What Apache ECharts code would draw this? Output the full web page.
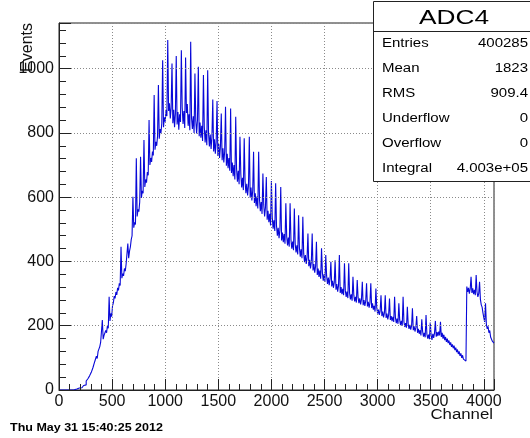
<!DOCTYPE html>
<html><head><meta charset="utf-8">
<script src="https://cdn.jsdelivr.net/npm/echarts@6/dist/echarts.min.js"></script>
<style>html,body{margin:0;padding:0;background:#fff}#c{width:530px;height:438px}</style>
</head><body><div id="c"></div>
<script>
// ---- data ----
const binWidth = 8;           // channels per bin
const xMax = 4096;
const yMax = 1142;
const counts = [
  0,0,0,0,0,0,0,0,0,0,0,0,0,0,0,0,
  0,1,0,2,3,1,4,6,5,8,7,11,10,14,18,16,
  28,24,35,31,44,40,55,52,70,66,88,82,105,98,120,114,
  135,148,142,218,158,170,165,185,178,200,192,290,215,238,228,262,
  272,292,285,305,296,318,310,332,325,446,348,362,355,378,370,392,
  398,456,410,432,445,468,480,601,505,522,515,721,540,562,555,585,
  726,598,620,612,778,632,655,645,678,668,840,700,722,710,742,730,
  918,748,772,760,790,949,782,812,800,830,1026,818,848,835,872,852,
  1089,868,892,845,878,1016,830,872,818,860,1039,826,865,810,858,834,
  1057,880,828,868,815,1035,862,890,822,858,808,1084,846,812,852,800,
  985,838,798,842,1006,790,832,785,822,775,980,818,770,808,762,995,
  800,758,795,750,788,904,742,780,735,772,899,728,765,722,758,860,
  715,752,708,742,881,698,735,690,722,682,876,675,708,665,700,655,
  850,688,648,682,640,788,672,630,660,622,783,650,612,642,605,635,
  788,598,630,590,620,741,582,612,572,602,565,741,592,556,585,548,
  674,576,540,568,663,530,558,522,548,512,650,538,502,528,495,643,
  512,480,505,472,498,632,465,490,460,485,455,581,478,450,474,446,
  581,468,440,462,435,565,455,428,450,422,544,442,415,438,410,539,
  425,398,420,392,412,487,385,405,378,398,487,372,392,365,385,461,
  358,378,352,372,346,441,366,340,360,336,420,355,330,350,326,346,
  399,322,340,318,335,404,312,330,306,325,420,302,320,298,315,295,
  394,310,290,306,286,394,302,282,298,278,352,295,276,290,272,342,
  288,270,285,266,282,337,264,280,262,277,332,260,274,256,272,332,
  255,270,250,262,244,316,256,238,250,234,246,295,230,244,226,240,
  295,224,238,220,234,285,218,230,214,228,212,290,225,208,222,206,
  270,218,202,215,200,290,212,196,208,194,259,205,190,203,188,200,
  254,186,198,182,194,230,178,190,175,186,170,220,182,166,178,164,
  233,174,160,172,158,210,170,156,175,162,178,215,166,180,168,182,
  170,212,165,178,160,172,155,165,150,160,146,154,140,148,134,142,
  130,138,124,132,118,126,112,120,106,114,100,108,96,102,90,96,
  322,305,318,300,315,352,302,316,298,312,295,358,305,290,300,337,
  282,265,258,240,225,212,270,205,190,198,178,185,165,170,152,146
];
const xTickValues = [0,500,1000,1500,2000,2500,3000,3500,4000];
const yTickValues = [0,200,400,600,800,1000];
const statTitle = 'ADC4';
const statLabels = ['Entries','Mean','RMS','Underflow','Overflow','Integral'];
const statValues = ['400285','1823','909.4','0','0','4.003e+05'];
const xTitle = 'Channel';
const yTitle = 'Events';
const dateText = 'Thu May 31 15:40:25 2012';

// ---- build ----
const FONT = "'Liberation Sans', Arial, Helvetica, sans-serif";
const seriesData = counts.map((v, i) => [i * binWidth, v]);
seriesData.push([xMax, counts[counts.length - 1]]);

const chart = echarts.init(document.getElementById('c'), null, {renderer: 'canvas'});

const gridStyle = {show: true, lineStyle: {color: '#8a8a8a', type: [1, 2], width: 1}};

const graphics = [];
graphics.push({type: 'text', x: 28, y: 23, rotation: Math.PI / 2,
  style: {text: yTitle, fill: '#111', font: '16px ' + FONT, align: 'right', verticalAlign: 'middle'}});
graphics.push({type: 'text', x: 493, y: 415, scaleX: 1.2,
  style: {text: xTitle, fill: '#111', font: '14px ' + FONT, align: 'right', verticalAlign: 'middle'}});
graphics.push({type: 'text', x: 10, y: 428, scaleX: 1.25,
  style: {text: dateText, fill: '#000', font: 'bold 10px ' + FONT, align: 'left', verticalAlign: 'middle'}});
graphics.push({type: 'rect', z: 10, shape: {x: 373.5, y: 1.5, width: 170, height: 180},
  style: {fill: '#fff', stroke: '#222', lineWidth: 1}});
graphics.push({type: 'line', z: 11, shape: {x1: 373.5, y1: 31.5, x2: 540, y2: 31.5},
  style: {stroke: '#222', lineWidth: 1}});
graphics.push({type: 'text', z: 11, x: 454, y: 18, scaleX: 1.25,
  style: {text: statTitle, fill: '#000', font: '21px ' + FONT, align: 'center', verticalAlign: 'middle'}});
statLabels.forEach((lab, k) => {
  const yy = 43.5 + k * 25;
  graphics.push({type: 'text', z: 11, x: 382, y: yy, scaleX: 1.25,
    style: {text: lab, fill: '#000', font: '12px ' + FONT, align: 'left', verticalAlign: 'middle'}});
  graphics.push({type: 'text', z: 11, x: 528, y: yy, scaleX: 1.25,
    style: {text: statValues[k], fill: '#000', font: '12px ' + FONT, align: 'right', verticalAlign: 'middle'}});
});

chart.setOption({
  animation: false,
  backgroundColor: '#fff',
  grid: {left: 59, right: 36, top: 23, bottom: 48, show: true, borderColor: '#222', borderWidth: 1, backgroundColor: 'transparent'},
  xAxis: {
    type: 'value', min: 0, max: xMax, interval: 500, z: 3,
    axisLine: {show: true, onZero: false, lineStyle: {color: '#222', width: 1}},
    axisTick: {show: true, inside: true, length: 11, lineStyle: {color: '#222'}},
    minorTick: {show: true, splitNumber: 5, length: 6, lineStyle: {color: '#222'}},
    splitLine: gridStyle,
    axisLabel: {show: true, margin: 4, color: '#111', fontSize: 16, fontFamily: FONT, showMaxLabel: false,
      formatter: v => xTickValues.includes(v) ? String(v) : ''}
  },
  yAxis: {
    type: 'value', min: 0, max: yMax, interval: 200, z: 3,
    axisLine: {show: true, lineStyle: {color: '#222', width: 1}},
    axisTick: {show: true, inside: true, length: 12, lineStyle: {color: '#222'}},
    minorTick: {show: true, splitNumber: 5, length: 7, lineStyle: {color: '#222'}},
    splitLine: gridStyle,
    axisLabel: {show: true, margin: 5, color: '#111', fontSize: 16, fontFamily: FONT, showMaxLabel: false,
      formatter: v => yTickValues.includes(v) ? String(v) : ''}
  },
  series: [{
    type: 'line', step: 'end', data: seriesData, z: 2,
    symbol: 'none', showSymbol: false, sampling: null, clip: true,
    lineStyle: {color: '#0808d8', width: 1.1},
    emphasis: {disabled: true}
  }],
  graphic: graphics
});
</script></body></html>
